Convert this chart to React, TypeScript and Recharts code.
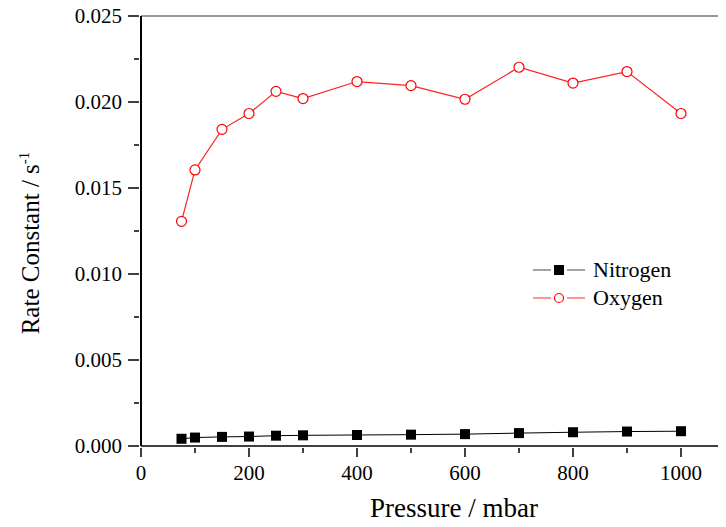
import { LineChart, Line, XAxis, YAxis, ReferenceLine } from 'recharts';

const pressure = [75, 100, 150, 200, 250, 300, 400, 500, 600, 700, 800, 900, 1000];
const nitrogen = [0.00042, 0.00049, 0.00053, 0.00055, 0.0006, 0.00062, 0.00064, 0.00066, 0.00069, 0.00075, 0.0008, 0.00084, 0.00086];
const oxygen = [0.01306, 0.01605, 0.01841, 0.01933, 0.02062, 0.0202, 0.02119, 0.02095, 0.02016, 0.02202, 0.0211, 0.02177, 0.01933];

const xTicks = [0, 100, 200, 300, 400, 500, 600, 700, 800, 900, 1000, 1100];
const xLabelled = [0, 200, 400, 600, 800, 1000];
const yTicks = [0, 0.0025, 0.005, 0.0075, 0.01, 0.0125, 0.015, 0.0175, 0.02, 0.0225, 0.025];
const yLabelled = [0, 0.005, 0.01, 0.015, 0.02, 0.025];

const data = pressure.map((p, i) => ({ pressure: p, nitrogen: nitrogen[i], oxygen: oxygen[i] }));

const FONT = 'Liberation Serif, Times New Roman, serif';

const XTick = (props: any) => {
  const { x, y, payload } = props;
  const major = xLabelled.includes(payload.value);
  return (
    <g>
      <line x1={x} y1={y} x2={x} y2={y + (major ? 9 : 5)} stroke="#000" strokeWidth={1.5} />
      {major && (
        <text x={x} y={y + 32} textAnchor="middle" style={{ fontFamily: FONT, fontSize: 21 }} fill="#000">
          {payload.value}
        </text>
      )}
    </g>
  );
};

const YTick = (props: any) => {
  const { x, y, payload } = props;
  const major = yLabelled.some((v) => Math.abs(v - payload.value) < 1e-9);
  return (
    <g>
      <line x1={x} y1={y} x2={x - (major ? 11 : 5)} y2={y} stroke="#000" strokeWidth={1.5} />
      {major && (
        <text x={x - 17} y={y + 7} textAnchor="end" style={{ fontFamily: FONT, fontSize: 21 }} fill="#000">
          {payload.value.toFixed(3)}
        </text>
      )}
    </g>
  );
};

const YTitle = () => (
  <text
    x={0}
    y={0}
    transform="translate(39, 243) rotate(-90)"
    textAnchor="middle"
    style={{ fontFamily: FONT, fontSize: 25 }}
    fill="#000"
  >
    Rate Constant / s
    <tspan dy={-10} style={{ fontSize: 15 }}>-1</tspan>
  </text>
);

const XTitle = () => (
  <text x={454} y={517} textAnchor="middle" style={{ fontFamily: FONT, fontSize: 27 }} fill="#000">
    Pressure / mbar
  </text>
);

const Square = (props: any) => {
  const { cx, cy } = props;
  if (cx == null || cy == null) return null;
  return <rect x={cx - 5} y={cy - 5} width={10} height={10} fill="#000" />;
};

const LegendBox = () => (
  <div
    style={{
      position: 'absolute',
      left: 531,
      top: 256,
      fontFamily: FONT,
      fontSize: 22,
      color: '#000',
      lineHeight: '28px',
    }}
  >
    <div style={{ display: 'flex', alignItems: 'center' }}>
      <svg width={60} height={28}>
        <line x1={2} y1={14} x2={20} y2={14} stroke="#666" strokeWidth={1.2} />
        <rect x={23} y={9} width={10} height={10} fill="#000" />
        <line x1={36} y1={14} x2={54} y2={14} stroke="#666" strokeWidth={1.2} />
      </svg>
      <span style={{ marginLeft: 2 }}>Nitrogen</span>
    </div>
    <div style={{ display: 'flex', alignItems: 'center' }}>
      <svg width={60} height={28}>
        <line x1={2} y1={14} x2={20} y2={14} stroke="#ff5050" strokeWidth={1.2} />
        <circle cx={28} cy={14} r={4.5} fill="#fff" stroke="#ff0000" strokeWidth={1.2} />
        <line x1={36} y1={14} x2={54} y2={14} stroke="#ff5050" strokeWidth={1.2} />
      </svg>
      <span style={{ marginLeft: 2 }}>Oxygen</span>
    </div>
  </div>
);

export default function App() {
  return (
    <div style={{ position: 'relative', margin: -8, width: 726, height: 527, overflow: 'hidden', background: '#fff' }}>
      <LineChart width={760} height={527} data={data} margin={{ top: 16, right: 25, left: 0, bottom: 0 }}>
        <ReferenceLine y={0.025} stroke="#777" strokeWidth={1.5} />
        <XAxis
          dataKey="pressure"
          type="number"
          domain={[0, 1100]}
          ticks={xTicks}
          interval={0}
          tickLine={false}
          tickSize={0}
          tick={<XTick />}
          height={81}
          axisLine={{ stroke: '#000', strokeWidth: 1.5 }}
          label={<XTitle />}
        />
        <YAxis
          type="number"
          domain={[0, 0.025]}
          ticks={yTicks}
          interval={0}
          tickLine={false}
          tickSize={0}
          tick={<YTick />}
          width={141}
          axisLine={{ stroke: '#000', strokeWidth: 2 }}
          label={<YTitle />}
        />
        <Line
          dataKey="nitrogen"
          stroke="#000"
          strokeWidth={1}
          dot={<Square />}
          isAnimationActive={false}
        />
        <Line
          dataKey="oxygen"
          stroke="#ff2020"
          strokeWidth={1.2}
          dot={{ r: 5, fill: '#fff', stroke: '#ff0000', strokeWidth: 1.2 }}
          isAnimationActive={false}
        />
      </LineChart>
      <LegendBox />
    </div>
  );
}
